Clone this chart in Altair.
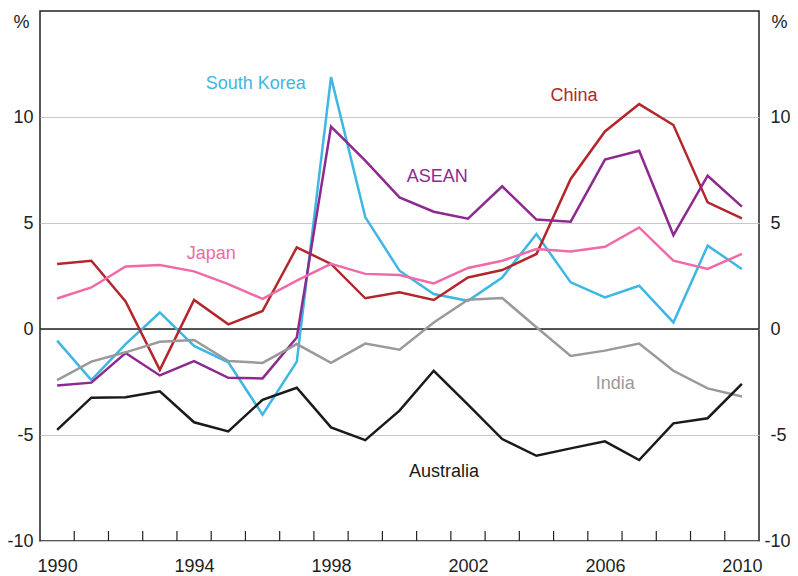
import altair as alt
import pandas as pd

years = list(range(1990, 2011))

australia = [-4.76, -3.24, -3.22, -2.94, -4.40, -4.83, -3.34, -2.77, -4.64, -5.24, -3.85,
             -1.97, -3.57, -5.19, -5.98, -5.63, -5.30, -6.18, -4.45, -4.21, -2.59]
india = [-2.41, -1.54, -1.10, -0.60, -0.52, -1.51, -1.60, -0.71, -1.60, -0.69, -0.98,
         0.31, 1.38, 1.46, 0.08, -1.27, -1.02, -0.69, -1.97, -2.80, -3.18]
asean = [-2.66, -2.53, -1.13, -2.19, -1.51, -2.30, -2.33, -0.40, 9.55, 7.94, 6.21,
         5.53, 5.20, 6.73, 5.16, 5.06, 7.99, 8.41, 4.43, 7.23, 5.77]
china = [3.07, 3.22, 1.30, -1.93, 1.37, 0.22, 0.85, 3.85, 3.07, 1.45, 1.73,
         1.37, 2.43, 2.78, 3.54, 7.08, 9.32, 10.61, 9.62, 5.97, 5.22]
japan = [1.44, 1.96, 2.95, 3.02, 2.72, 2.12, 1.42, 2.28, 3.07, 2.60, 2.55,
         2.15, 2.88, 3.22, 3.77, 3.66, 3.88, 4.79, 3.22, 2.83, 3.54]
south_korea = [-0.55, -2.41, -0.71, 0.78, -0.80, -1.57, -4.04, -1.54, 11.88, 5.28, 2.75,
               1.65, 1.33, 2.43, 4.48, 2.20, 1.49, 2.04, 0.31, 3.93, 2.83]

series_names = ["South Korea", "China", "ASEAN", "Japan", "India", "Australia"]
series_colors = ["#3fb6e3", "#b3262c", "#8c2a8f", "#f06aa8", "#9a9a9a", "#1a1a1a"]
series_values = {
    "South Korea": south_korea,
    "China": china,
    "ASEAN": asean,
    "Japan": japan,
    "India": india,
    "Australia": australia,
}

# annotation label positions (year, value)
label_years = [1996.3, 2005.6, 2001.6, 1995.0, 2006.8, 2001.8]
label_values = [11.57, 11.0, 7.18, 3.55, -2.58, -6.73]

tick_label_years = [1990, 1994, 1998, 2002, 2006, 2010]
y_tick_values = [-10, -5, 0, 5, 10]

rows = []
for name in series_names:
    for y, v in zip(years, series_values[name]):
        rows.append({"series": name, "t": y + 0.5, "v": v})
df = pd.DataFrame(rows)

lab_df = pd.DataFrame({"series": series_names, "t": label_years, "v": label_values})
bounds_df = pd.DataFrame({"t": list(range(1991, 2011))})
zero_df = pd.DataFrame({"v": [0]})

FONT = "Liberation Sans"
xscale = alt.Scale(domain=[1990, 2011], nice=False, zero=False)
yscale = alt.Scale(domain=[-10, 15], nice=False, zero=False)
cscale = alt.Scale(domain=series_names, range=series_colors)

x_axis = alt.Axis(
    values=[y + 0.5 for y in tick_label_years],
    labelExpr="'' + floor(datum.value)",
    ticks=False, grid=False, domain=False, title=None,
    labelFontSize=18, labelFont=FONT, labelColor="#222", labelPadding=16,
)

left_axis = alt.Axis(
    values=y_tick_values, orient="left", ticks=False, domain=False,
    grid=True, gridColor="#c8c8c8", gridWidth=1.2,
    labelExpr="'' + datum.value",
    labelFontSize=18, labelFont=FONT, labelColor="#222", labelPadding=7,
    title="%", titleAngle=0, titleX=-19, titleY=11, titleAlign="center",
    titleBaseline="middle", titleFontSize=18, titleFontWeight="normal",
    titleFont=FONT, titleColor="#222",
)
right_axis = alt.Axis(
    values=y_tick_values, orient="right", ticks=False, domain=False,
    grid=False,
    labelExpr="'' + datum.value",
    labelFontSize=18, labelFont=FONT, labelColor="#222",
    labelPadding={"condition": {"test": "datum.value == -10", "value": 5}, "value": 11},
    title="%", titleAngle=0, titleX=20, titleY=11, titleAlign="center",
    titleBaseline="middle", titleFontSize=18, titleFontWeight="normal",
    titleFont=FONT, titleColor="#222",
)

lines = alt.Chart(df).mark_line(strokeWidth=2.5).encode(
    x=alt.X("t:Q", scale=xscale, axis=x_axis),
    y=alt.Y("v:Q", scale=yscale, axis=left_axis),
    color=alt.Color("series:N", scale=cscale, legend=None),
    detail="series:N",
)

zero = alt.Chart(zero_df).mark_rule(color="#222", strokeWidth=1.3).encode(
    y=alt.Y("v:Q", scale=yscale, axis=right_axis),
)

ticks = alt.Chart(bounds_df).mark_rule(color="#222", strokeWidth=1.2).encode(
    x=alt.X("t:Q", scale=xscale, axis=x_axis),
    y=alt.value(530),
    y2=alt.value(520),
)

labels = alt.Chart(lab_df).mark_text(fontSize=18, font=FONT, align="center", baseline="middle").encode(
    x=alt.X("t:Q", scale=xscale, axis=x_axis),
    y=alt.Y("v:Q", scale=yscale, axis=None),
    text="series:N",
    color=alt.Color("series:N", scale=cscale, legend=None),
)

chart = alt.layer(zero, ticks, lines, labels).resolve_axis(y="independent").properties(
    width=719, height=530,
    background="white",
    autosize=alt.AutoSizeParams(type="none"),
    padding={"left": 32, "top": 3, "right": 31, "bottom": 33},
).configure_view(stroke="#222", strokeWidth=1.5)

chart.save("out.html", embed_options={"renderer": "svg", "actions": False})
